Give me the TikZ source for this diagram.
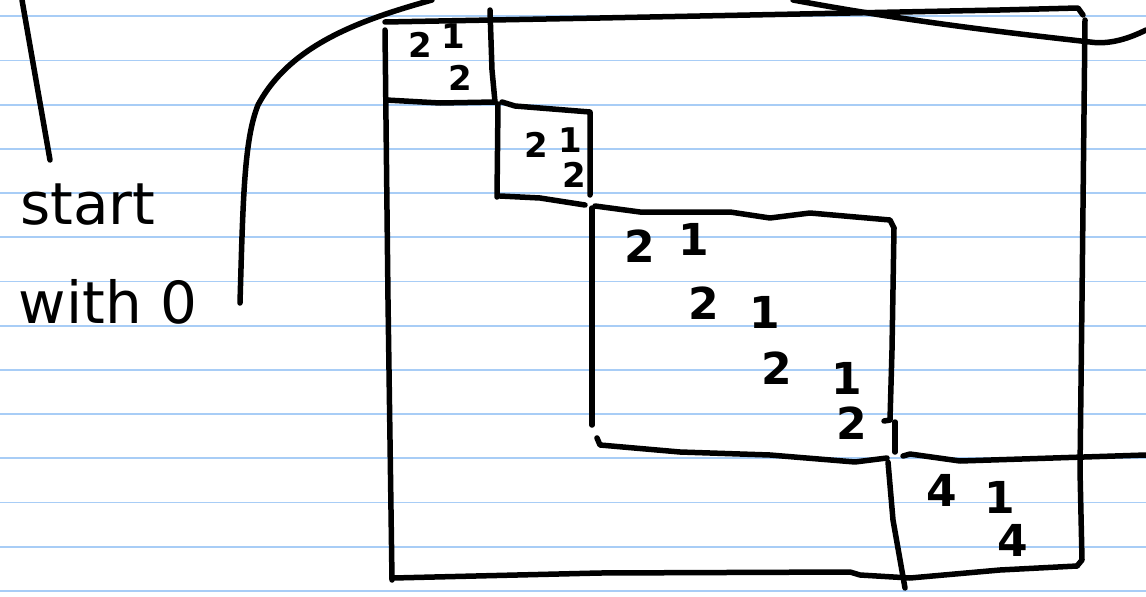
\documentclass[tikz,border=0pt]{standalone}
\usepackage{fontspec}
\setmainfont{DejaVu Sans}
\definecolor{ruleblue}{HTML}{A8CDF6}

\begin{document}
\begin{tikzpicture}[x=1pt,y=-1pt,
  pen/.style={line width=5.5, line cap=round, line join=round},
  rule/.style={color=ruleblue, line width=1.8},
  big/.style={font=\fontsize{44}{44}\selectfont\bfseries, inner sep=0},
  small/.style={font=\fontsize{34}{34}\selectfont\bfseries, inner sep=0},
  word/.style={font=\fontsize{58}{58}\selectfont, inner sep=0}]
  \useasboundingbox (0,0) rectangle (1146,597);
  \fill[white] (0,0) rectangle (1146,597);
  \foreach \k in {0,...,13}
    \draw[rule] (0,16.3+44.2*\k) -- (1146,16.3+44.2*\k);

  % note on the left
  \draw[pen] (22,0) -- (50,160);
  \node[word] (startlbl) at (88,205) {start};
  \node[word] (withlbl) at (108,302) {with 0};
  \draw[pen] (240,303) .. controls (243,200) and (244,140) .. (258,105)
    .. controls (290,45) and (360,20) .. (432,0);
  \draw[pen] (793,0) .. controls (900,20) and (1000,32) .. (1090,42)
    .. controls (1110,45) and (1130,38) .. (1146,30);

  % outer block
  \draw[pen] (385,30) -- (388,300) -- (392,580);
  \draw[pen] (385,22) -- (600,18) -- (1000,10) -- (1078,8) -- (1083,15);
  \draw[pen] (1085,20) -- (1082,300) -- (1080,470) -- (1082,560) -- (1077,566);
  \draw[pen] (393,578) -- (600,573) -- (850,572) -- (860,575) -- (910,578)
    -- (1000,570) -- (1077,566);

  % first 2x2 block
  \draw[pen] (490,10) -- (492,70) -- (495,102);
  \draw[pen] (386,100) -- (440,103) -- (495,102);
  \node[small] (aa) at (420,45) {2};
  \node[small] (ab) at (453,36) {1};
  \node[small] (ac) at (460,78) {2};

  % second 2x2 block
  \draw[pen] (498,104) -- (497,197);
  \draw[pen] (502,102) -- (515,106) -- (590,112) -- (590,195);
  \draw[pen] (500,196) -- (540,198) -- (585,205);
  \node[small] (ba) at (536,145) {2};
  \node[small] (bb) at (570,140) {1};
  \node[small] (bc) at (574,175) {2};

  % middle block
  \draw[pen] (592,208) -- (592,425);
  \draw[pen] (595,206) -- (640,212) -- (730,212) -- (770,218) -- (810,213)
    -- (890,220) -- (894,228);
  \draw[pen] (894,228) -- (892,350) -- (890,420) -- (884,421);
  \draw[pen] (597,438) -- (600,445) -- (680,452) -- (770,455) -- (855,462)
    -- (887,458);
  \node[big] (ca) at (640,246) {2};
  \node[big] (cb) at (694,239) {1};
  \node[big] (cc) at (704,303) {2};
  \node[big] (cd) at (765,312) {1};
  \node[big] (ce) at (777,368) {2};
  \node[big] (cf) at (847,378) {1};
  \node[big] (cg) at (852,423) {2};

  % last block
  \draw[pen] (895,422) -- (895,452);
  \draw[pen] (888,462) -- (893,520) -- (905,588);
  \draw[pen] (903,456) -- (910,454) -- (960,461) -- (1146,455);
  \node[big] (da) at (942,490) {4};
  \node[big] (db) at (1000,497) {1};
  \node[big] (dc) at (1013,540) {4};
\end{tikzpicture}
\end{document}
